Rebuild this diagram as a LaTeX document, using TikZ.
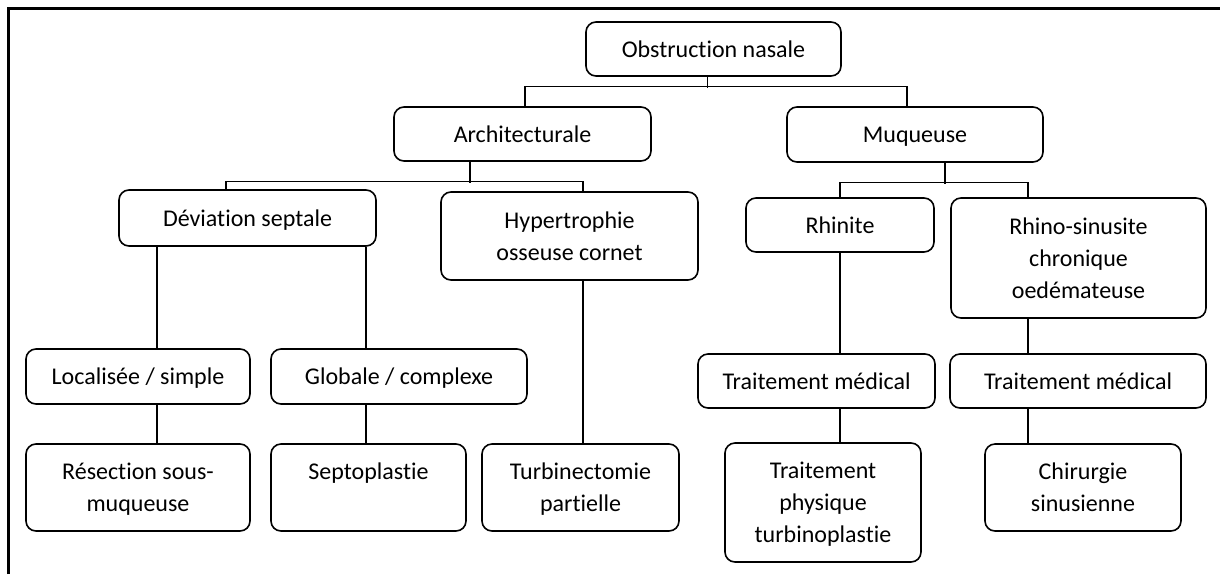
\documentclass[tikz,border=0pt]{standalone}
\usepackage{fontspec}
\setmainfont{Carlito}[Ligatures=NoCommon]
\usetikzlibrary{calc}

\tikzset{
	boite/.style={draw, line width=1.6pt, rounded corners=10pt, align=center, inner sep=0pt, text depth=0pt, font=\fontsize{24}{32}\selectfont},
	lien/.style={line width=1.2pt}
}

\begin{document}
\begin{tikzpicture}[x=1pt, y=-1pt]
			%%%%% START %%%%%
			
			\useasboundingbox (0, 0) rectangle (1220, 574);
			\draw[line width=3pt] (8, 574) -- (8, 8) -- (1220, 8);
			
			\node[boite, minimum width=255, minimum height=54] (obs) at (713.5, 49) {Obstruction nasale};
			
			\node[boite, minimum width=257, minimum height=54] (arch) at (522.5, 134) {Architecturale};
			\node[boite, minimum width=256, minimum height=55] (muq) at (915, 134.5) {Muqueuse};
			
			\node[boite, minimum width=257, minimum height=56] (dev) at (247.5, 218) {Déviation septale};
			\node[boite, minimum width=257, minimum height=88] (hyp) at (569.5, 236) {Hypertrophie\\osseuse cornet};
			\node[boite, minimum width=188, minimum height=54] (rhi) at (840, 225) {Rhinite};
			\node[boite, minimum width=255, minimum height=120] (rs) at (1078.5, 258) {Rhino-sinusite\\chronique\\oedémateuse};
			
			\node[boite, minimum width=224, minimum height=55] (loc) at (138, 376.5) {Localisée / simple};
			\node[boite, minimum width=256, minimum height=55] (glo) at (399, 376.5) {Globale / complexe};
			\node[boite, minimum width=237, minimum height=54] (tm1) at (816.5, 381) {Traitement médical};
			\node[boite, minimum width=256, minimum height=54] (tm2) at (1078, 381) {Traitement médical};
			
			\node[boite, minimum width=224, minimum height=87] (res) at (138, 487.5) {Résection sous-\\muqueuse};
			\node[boite, minimum width=195, minimum height=87] (sep) at (368.5, 487.5) {Septoplastie\\\mbox{}};
			\node[boite, minimum width=197, minimum height=87] (turb) at (580.5, 487.5) {Turbinectomie\\partielle};
			\node[boite, minimum width=196, minimum height=119] (tp) at (823, 502.5) {Traitement\\physique\\turbinoplastie};
			\node[boite, minimum width=196, minimum height=87] (chir) at (1083, 487.5) {Chirurgie\\sinusienne};
			
			\draw[lien] ([xshift=-6pt]obs.south) -- ++(0, 11);
			\draw[lien] ([xshift=2.5pt]arch.north) -- ++(0, -20) -| ([xshift=-8pt]muq.north);
			
			\draw[lien] ([xshift=-52.5pt]arch.south) -- ++(0, 21);
			\draw[lien] ([xshift=-21.5pt]dev.north) -- ++(0, -8) -| ([xshift=13.5pt]hyp.north);
			\draw[lien] ([xshift=30pt]muq.south) -- ++(0, 21);
			\draw[lien] (rhi.north) -- ++(0, -15) -| ([xshift=-50.5pt]rs.north);
			
			\draw[lien] ([xshift=-90.5pt]dev.south) -- ([xshift=-90.5pt]dev.south |- loc.north);
			\draw[lien] ([xshift=118.5pt]dev.south) -- ([xshift=118.5pt]dev.south |- glo.north);
			\draw[lien] ([xshift=19pt]loc.south) -- ([xshift=19pt]loc.south |- res.north);
			\draw[lien] ([xshift=-33pt]glo.south) -- ([xshift=-33pt]glo.south |- sep.north);
			\draw[lien] ([xshift=13.5pt]hyp.south) -- ([xshift=13.5pt]hyp.south |- turb.north);
			\draw[lien] (rhi.south) -- (rhi.south |- tm1.north);
			\draw[lien] ([xshift=-50.5pt]rs.south) -- ([xshift=-50.5pt]rs.south |- tm2.north);
			\draw[lien] ([xshift=23.5pt]tm1.south) -- ([xshift=23.5pt]tm1.south |- tp.north);
			\draw[lien] ([xshift=-50pt]tm2.south) -- ([xshift=-50pt]tm2.south |- chir.north);
			
			%%%%% END %%%%%
\end{tikzpicture}
\end{document}
